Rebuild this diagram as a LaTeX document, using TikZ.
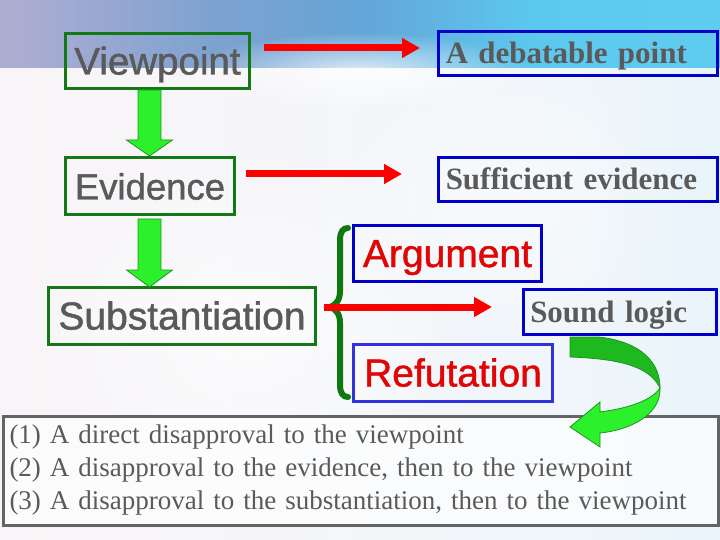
\documentclass[tikz,border=0pt]{standalone}
\usepackage{fontspec}
\setmainfont{Liberation Serif}
\newfontfamily\arialf[FakeBold=1.2]{Liberation Sans}
\usetikzlibrary{arrows.meta,fadings,calc}
\definecolor{boxgreen}{RGB}{20,120,20}
\definecolor{boxblue}{RGB}{0,0,200}
\definecolor{boxblueb}{RGB}{50,50,220}
\definecolor{boxgrey}{RGB}{100,100,100}
\definecolor{txtgrey}{RGB}{90,90,90}
\definecolor{txtred}{RGB}{225,5,5}
\definecolor{arrred}{RGB}{250,0,0}
\definecolor{bgreen}{RGB}{45,240,45}
\definecolor{dgreen}{RGB}{30,185,30}
\definecolor{lgreen}{RGB}{30,150,30}
\definecolor{bracegreen}{RGB}{15,120,15}
\definecolor{tb0}{RGB}{168,160,178}
\definecolor{tb1}{RGB}{195,176,204}
\definecolor{tb2}{RGB}{170,172,210}
\definecolor{tb3}{RGB}{125,162,208}
\definecolor{tb4}{RGB}{100,165,215}
\definecolor{tb5}{RGB}{92,200,238}
\definecolor{tb6}{RGB}{100,212,242}
\definecolor{lb0}{RGB}{250,238,239}
\definecolor{lb1}{RGB}{248,245,248}
\definecolor{lb2}{RGB}{240,246,250}
\definecolor{lb3}{RGB}{212,238,249}
\pgfdeclarehorizontalshading{topband}{100bp}{color(0bp)=(tb0); color(13bp)=(tb1); color(27bp)=(tb2); color(40bp)=(tb3); color(50bp)=(tb4); color(62bp)=(tb5); color(100bp)=(tb6)}
\pgfdeclarehorizontalshading{lowband}{100bp}{color(0bp)=(lb0); color(30bp)=(lb1); color(65bp)=(lb2); color(100bp)=(lb3)}
\tikzfading[name=softblob, inner color=transparent!0, outer color=transparent!100]
\newcommand\sansat[1]{\arialf\fontsize{#1}{#1}\selectfont}
\tikzset{
  gbox/.style={draw=boxgreen, line width=3pt, inner sep=0pt, text=txtgrey,
    text height=27pt, text depth=0pt},
  bbox/.style={draw=boxblue, line width=3pt, inner xsep=7pt, inner ysep=0pt, text=txtgrey,
    align=left, text height=21pt, text depth=0pt, font=\bfseries\fontsize{31}{31}\selectfont},
  rbox/.style={line width=3pt, inner sep=0pt, text=txtred,
    text height=27pt, text depth=0pt},
  redarrow/.style={draw=arrred, line width=7pt, -{Triangle[length=18pt,width=19pt]}},
  blockarrow/.style={fill=bgreen, draw=lgreen, line width=0.8pt, line join=miter},
  bracestyle/.style={draw=bracegreen, line width=6pt, line cap=round},
}
\begin{document}
\begin{tikzpicture}[x=1pt,y=-1pt]
\useasboundingbox (0,0) rectangle (720,540);
% background
\shade[shading=lowband] (0,68) rectangle (720,540);
\shade[shading=topband] (0,0) rectangle (720,68);
\fill[white, opacity=0.8, path fading=softblob] (360,72) ellipse [x radius=170, y radius=40];
\fill[white, opacity=0.7, path fading=softblob] (250,330) ellipse [x radius=220, y radius=200];
\fill[white, opacity=0.5, path fading=softblob] (500,200) ellipse [x radius=180, y radius=140];
% nodes
\node[gbox, minimum width=184pt, minimum height=55pt, font=\sansat{38.5}] (vp) at (157.5,61) {Viewpoint};
\node[gbox, minimum width=168.5pt, minimum height=56.5pt, font=\sansat{36.5}] (ev) at (150,186) {Evidence};
\node[gbox, minimum width=267pt, minimum height=57pt, font=\sansat{39}] (sub) at (182,316) {Substantiation};
\node[bbox, text width=264.5pt, minimum height=44pt] (dp) at (578,53.5) {A debatable point};
\node[bbox, text width=264.5pt, minimum height=44pt] (se) at (578,179.5) {Sufficient evidence};
\node[bbox, text width=179.5pt, minimum height=45pt] (sl) at (620,312) {Sound logic};
\node[rbox, draw=boxblue, minimum width=188pt, minimum height=56pt, font=\sansat{39}] (arg) at (447.5,253.5) {Argument};
\node[rbox, draw=boxblueb, minimum width=199pt, minimum height=57pt, font=\sansat{39}] (ref) at (453,373) {Refutation};
\node[draw=boxgrey, line width=3pt, fill=white, fill opacity=0.65, text opacity=1,
  text=txtgrey, anchor=north west, minimum width=715.5pt, minimum height=109pt,
  inner xsep=6.5pt, inner ysep=0pt, text width=702.5pt, align=left,
  font=\fontsize{27}{33}\selectfont] (list) at (1.5,414.5)
  {(1) A direct disapproval to the viewpoint\\(2) A disapproval to the evidence, then to the viewpoint\\(3) A disapproval to the substantiation, then to the viewpoint};
% green block arrows
\draw[blockarrow] (138,90) -- (161,90) -- (161,140) -- (172.5,140) -- (149.5,156) -- (126.5,140) -- (138,140) -- cycle;
\draw[blockarrow] (138,219) -- (161,219) -- (161,270) -- (172.5,270) -- (149.5,287) -- (126.5,270) -- (138,270) -- cycle;
% brace
\draw[bracestyle] (348,228) .. controls (343,228) and (340,232) .. (340,240) -- (340,291)
  .. controls (340,300) and (336,305) .. (330,307)
  .. controls (336,309) and (340,314) .. (340,323) -- (340,385)
  .. controls (340,393) and (343,397) .. (348,397);
% red arrows
\coordinate (r1s) at (264,48); \coordinate (r1e) at (420,48);
\coordinate (r2s) at (246,174); \coordinate (r2e) at (402,174);
\coordinate (r3s) at (324,307); \coordinate (r3e) at (492,307);
\draw[redarrow] (r1s) -- (r1e);
\draw[redarrow] (r2s) -- (r2e);
\draw[redarrow] (r3s) -- (r3e);
% curved arrow
\draw[fill=dgreen, draw=lgreen, line width=0.8pt] (570,337) -- (598,337)
  .. controls (630,340) and (660,355) .. (660,388)
  .. controls (650,368) and (625,359) .. (570,357) -- cycle;
\draw[fill=bgreen, draw=lgreen, line width=0.8pt, line join=miter] (660,388)
  .. controls (661,415) and (630,430) .. (600,433) -- (600,447) -- (570,427) -- (600,402) -- (600,412)
  .. controls (630,408) and (652,400) .. (660,388) -- cycle;
\end{tikzpicture}
\end{document}
